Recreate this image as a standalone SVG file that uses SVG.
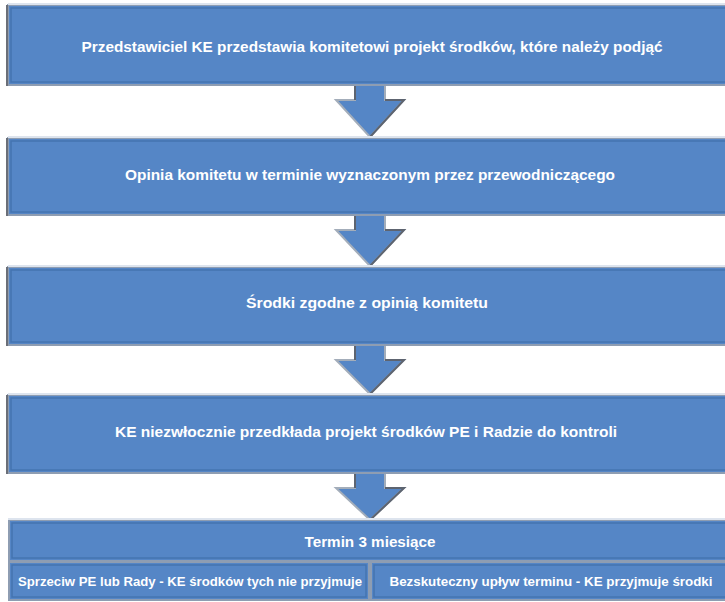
<svg xmlns="http://www.w3.org/2000/svg" width="725" height="602" viewBox="0 0 725 602">
<style>
.box{fill:#5586c6;stroke:#8e9db2;stroke-width:2}
.inner{fill:none;stroke:#4474b0;stroke-width:1.5}
.hl{stroke:#dde4ee;stroke-width:2}
.sh{stroke:#6b6f78;stroke-width:2}
.arrow{fill:#5586c6;stroke:#a3adba;stroke-width:2;stroke-linejoin:miter}
.arrowdk{fill:none;stroke:#5d6470;stroke-width:2}
.t{font-family:"Liberation Sans",Arial,sans-serif;font-weight:bold;font-size:14px;fill:#ffffff;text-anchor:middle}
.ts{font-size:13px}
</style>
<rect width="725" height="602" fill="#ffffff"/>
<g id="connectors">
  <g id="arrow1">
    <polygon class="arrow" points="355,84 385,84 385,100 404,100 370,137 336,100 355,100"/>
    <polyline class="arrowdk" points="355,86 355,100"/>
    <polyline class="arrowdk" points="385,100 404,100 370,137"/>
  </g>
  <g id="arrow2">
    <polygon class="arrow" points="355,214 385,214 385,230 404,230 370,266 336,230 355,230"/>
    <polyline class="arrowdk" points="355,216 355,230"/>
    <polyline class="arrowdk" points="385,230 404,230 370,266"/>
  </g>
  <g id="arrow3">
    <polygon class="arrow" points="355,344 385,344 385,360 404,360 370,394 336,360 355,360"/>
    <polyline class="arrowdk" points="355,346 355,360"/>
    <polyline class="arrowdk" points="385,360 404,360 370,394"/>
  </g>
  <g id="arrow4">
    <polygon class="arrow" points="355,472 385,472 385,488 404,488 370,520 336,488 355,488"/>
    <polyline class="arrowdk" points="355,474 355,488"/>
    <polyline class="arrowdk" points="385,488 404,488 370,520"/>
  </g>
</g>
<g id="node1">
  <rect class="box" x="8" y="5" width="730" height="80"/>
  <rect class="inner" x="11" y="8" width="724" height="74"/>
  <line class="sh" x1="7" y1="5" x2="7" y2="86"/>
  <line class="hl" x1="8" y1="4" x2="725" y2="4"/>
  <text class="t" x="372" y="52" textLength="581" lengthAdjust="spacingAndGlyphs">Przedstawiciel KE przedstawia komitetowi projekt środków, które należy podjąć</text>
</g>
<g id="node2">
  <rect class="box" x="8" y="138" width="730" height="77"/>
  <rect class="inner" x="11" y="141" width="724" height="71"/>
  <line class="sh" x1="7" y1="138" x2="7" y2="216"/>
  <line class="hl" x1="8" y1="137" x2="725" y2="137"/>
  <text class="t" x="370" y="180" textLength="490" lengthAdjust="spacingAndGlyphs">Opinia komitetu w terminie wyznaczonym przez przewodniczącego</text>
</g>
<g id="node3">
  <rect class="box" x="8" y="267" width="730" height="78"/>
  <rect class="inner" x="11" y="270" width="724" height="72"/>
  <line class="sh" x1="7" y1="267" x2="7" y2="346"/>
  <line class="hl" x1="8" y1="266" x2="725" y2="266"/>
  <text class="t" x="367" y="308" textLength="242" lengthAdjust="spacingAndGlyphs">Środki zgodne z opinią komitetu</text>
</g>
<g id="node4">
  <rect class="box" x="8" y="395" width="730" height="78"/>
  <rect class="inner" x="11" y="398" width="724" height="72"/>
  <line class="sh" x1="7" y1="395" x2="7" y2="474"/>
  <line class="hl" x1="8" y1="394" x2="725" y2="394"/>
  <text class="t" x="366" y="437" textLength="502" lengthAdjust="spacingAndGlyphs">KE niezwłocznie przedkłada projekt środków PE i Radzie do kontroli</text>
</g>
<g id="node5">
  <rect class="box" x="9" y="520" width="730" height="41"/>
  <rect class="inner" x="12" y="523" width="724" height="35"/>
  <line class="hl" x1="8" y1="519" x2="725" y2="519"/>
  <text class="t" x="370" y="547" textLength="131" lengthAdjust="spacingAndGlyphs">Termin 3 miesiące</text>
</g>
<g id="node6">
  <rect class="box" x="9" y="562" width="360" height="38"/>
  <rect class="inner" x="12" y="565" width="354" height="32"/>
  <text class="t ts" x="190" y="586" textLength="344" lengthAdjust="spacingAndGlyphs">Sprzeciw PE lub Rady - KE środków tych nie przyjmuje</text>
</g>
<g id="node7">
  <rect class="box" x="371" y="562" width="367" height="38"/>
  <rect class="inner" x="374" y="565" width="361" height="32"/>
  <text class="t ts" x="551" y="586" textLength="323" lengthAdjust="spacingAndGlyphs">Bezskuteczny upływ terminu - KE przyjmuje środki</text>
</g>
</svg>
